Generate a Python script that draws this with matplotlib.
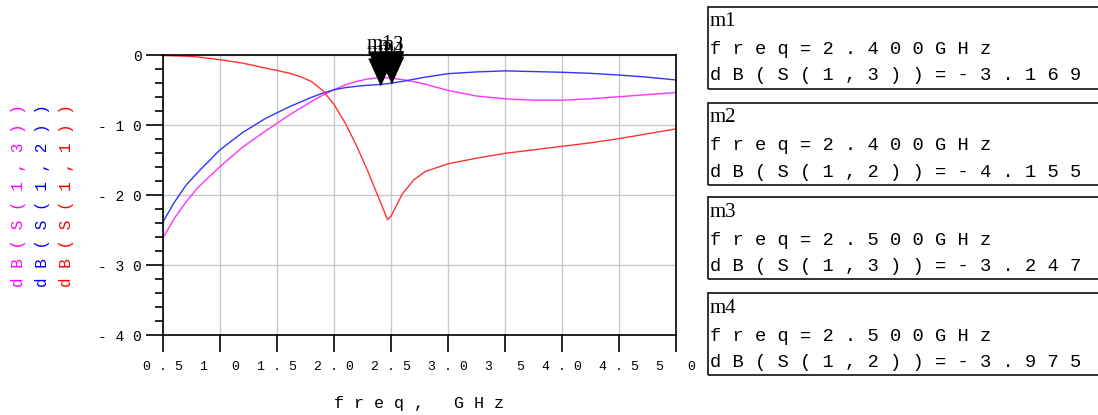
import matplotlib
matplotlib.use("Agg")
import matplotlib.pyplot as plt
from matplotlib.patches import Rectangle

# S-parameter sweep (GHz, dB)
freq = [0.5, 0.6, 0.7, 0.8, 1.0, 1.2, 1.4, 1.6, 1.7, 1.8, 1.9, 2.0, 2.1, 2.2, 2.3, 2.4,
        2.47, 2.5, 2.6, 2.7, 2.8, 3.0, 3.25, 3.5, 3.75, 4.0, 4.25, 4.5, 4.75, 5.0]
s11 = [0.0, -0.05, -0.1, -0.2, -0.6, -1.1, -1.8, -2.5, -3.0, -3.7, -5.0, -7.0, -9.7, -13.0,
       -16.7, -20.7, -23.5, -23.0, -19.8, -17.8, -16.6, -15.5, -14.7, -14.0, -13.5,
       -13.0, -12.5, -11.9, -11.2, -10.5]
s12 = [-23.8, -21.0, -18.6, -16.8, -13.5, -11.0, -9.0, -7.4, -6.7, -6.0, -5.4, -4.9, -4.6,
       -4.4, -4.25, -4.155, -4.03, -3.975, -3.7, -3.4, -3.1, -2.6, -2.35, -2.2, -2.3,
       -2.4, -2.55, -2.8, -3.1, -3.5]
s13 = [-26.1, -23.3, -21.0, -19.0, -15.9, -13.1, -10.8, -8.6, -7.6, -6.6, -5.7, -4.9, -4.2,
       -3.7, -3.35, -3.169, -3.2, -3.247, -3.45, -3.75, -4.1, -5.0, -5.8, -6.2, -6.4,
       -6.4, -6.2, -5.9, -5.6, -5.3]

# markers
mk_names = ["m1", "m2", "m3", "m4"]
mk_freq = [2.4, 2.4, 2.5, 2.5]
mk_trace = ["dB(S(1,3))", "dB(S(1,2))", "dB(S(1,3))", "dB(S(1,2))"]
mk_val = [-3.169, -4.155, -3.247, -3.975]

xticks = [0.5, 1.0, 1.5, 2.0, 2.5, 3.0, 3.5, 4.0, 4.5, 5.0]
xtick_labels = ["0.5", "1 0", "1.5", "2.0", "2.5", "3.0", "3 5", "4.0", "4.5", "5 0"]
yticks = [0, -10, -20, -30, -40]
ytick_labels = ["0", "-10", "-20", "-30", "-40"]

MONO = "Liberation Mono"
SERIF = "Liberation Serif"
W, H = 1098, 415


def sp(s):
    return " ".join(s)


def fx(px):
    return px / W


def fy(py):
    return 1 - py / H


fig = plt.figure(figsize=(10.98, 4.15), dpi=100)
ax = fig.add_axes([fx(163), fy(335), (676 - 163) / W, (335 - 55.5) / H])

ax.plot(freq, s13, color="#ff33ff", lw=1.0)
ax.plot(freq, s12, color="#3333ff", lw=1.0)
ax.plot(freq, s11, color="#ff3333", lw=1.0)

ax.set_xlim(0.5, 5.0)
ax.set_ylim(-40, 0)
ax.set_xticks(xticks)
ax.set_xticklabels([sp(t) for t in xtick_labels], fontfamily=MONO, fontsize=9.5)
ax.set_yticks(yticks)
ax.set_yticklabels([sp(t) for t in ytick_labels], fontfamily=MONO, fontsize=10.5)
ax.set_yticks(range(-40, 1, 2), minor=True)
ax.tick_params(axis="both", which="major", direction="out", length=12, width=1.2)
ax.tick_params(axis="x", which="major", pad=7)
ax.tick_params(axis="y", which="major", pad=3)
ax.tick_params(axis="y", which="minor", direction="out", length=6, width=1.2)
ax.grid(True, which="major", color="#c8c8c8", lw=1.0)
for s in ax.spines.values():
    s.set_linewidth(1.2)
ax.set_xlabel(sp("freq,") + "   " + sp("GHz"), fontfamily=MONO, fontsize=12, labelpad=16)

# marker triangles with tip at the value
tri = [(-0.45, 1.0), (0.45, 1.0), (0.0, 0.0)]
ax.plot(mk_freq, mk_val, ls="none", marker=tri, ms=38, color="black", clip_on=False, zorder=5)
for name, f, v in zip(mk_names, mk_freq, mk_val):
    ax.annotate(name, (f, v), xytext=(0, 17), textcoords="offset points",
                ha="center", va="bottom", fontfamily=SERIF, fontsize=15,
                annotation_clip=False, zorder=6)

# rotated trace names on the left
for x, txt, c in [(19, "dB(S(1,3))", "#ff00ff"), (43, "dB(S(1,2))", "#0000ff"),
                  (67, "dB(S(1,1))", "#ff0000")]:
    fig.text(fx(x), fy(196), sp(txt), rotation=90, color=c, ha="center", va="center",
             fontfamily=MONO, fontsize=11.5)

# marker readout boxes
box_tops = [7, 103, 197, 293]
for top, name, f, tr, v in zip(box_tops, mk_names, mk_freq, mk_trace, mk_val):
    fig.patches.append(Rectangle((fx(708), fy(top + 82)), 0.5, 82 / H, transform=fig.transFigure,
                                 fill=False, ec="#222222", lw=1.3))
    fig.text(fx(710), fy(top + 15), name, fontfamily=SERIF, fontsize=15, va="center")
    fig.text(fx(710), fy(top + 43), sp("freq=%.3fGHz" % f), fontfamily=MONO, fontsize=13.5,
             va="center")
    fig.text(fx(710), fy(top + 69), sp("%s=%.3f" % (tr, v)), fontfamily=MONO, fontsize=13.5,
             va="center")

fig.savefig("out.png", dpi=100)
